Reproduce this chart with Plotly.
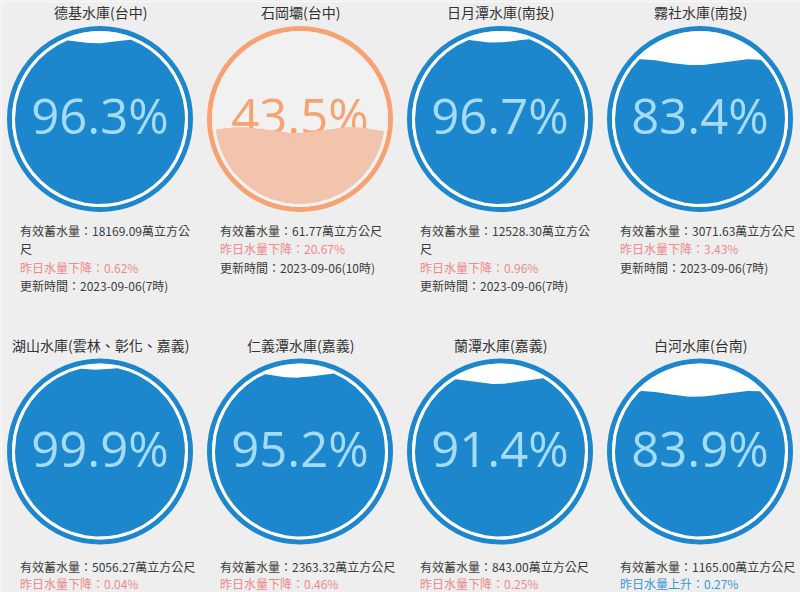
import numpy as np
import plotly.graph_objects as go

# ---------------- data ----------------
names = ["德基水庫(台中)", "石岡壩(台中)", "日月潭水庫(南投)", "霧社水庫(南投)",
         "湖山水庫(雲林、彰化、嘉義)", "仁義潭水庫(嘉義)", "蘭潭水庫(嘉義)", "白河水庫(台南)"]
percent = [96.3, 43.5, 96.7, 83.4, 99.9, 95.2, 91.4, 83.9]
storage = ["18169.09", "61.77", "12528.30", "3071.63", "5056.27", "2363.32", "843.00", "1165.00"]
daily_change = [-0.62, -20.67, -0.96, -3.43, -0.04, -0.46, -0.25, 0.27]
updated = ["2023-09-06(7時)", "2023-09-06(10時)", "2023-09-06(7時)", "2023-09-06(7時)",
           None, None, None, None]

# ---------------- styling / layout ----------------
W, H = 800, 592
BG = "#eeeeee"
COL_W = 200
ROW_CY = [119, 451.5]
ROW_TITLE_Y = [11.5, 345]
ROW_INFO_Y = [230, 566]
ROW_LINE_STEP = [18.5, 17.5]
R_OUT = 93.0
RING_W = 5.0
R_GAP = 88.0
R_IN = 85.0
WAVE_A = 3.0
WAVE_L = 110.0
TEXT_DY = 3.0

BLUE = dict(ring="#1d87cd", water="#1d87cd", text_in="#a4dcf7", text_out="#1d87cd", inside="#ffffff")
ORANGE = dict(ring="#f6a272", water="#f3c4ad", text_in="#f6a272", text_out="#f6a272", inside="#f1f1f1")

CJK = "Noto Sans CJK TC"
NUM_FONT = "Open Sans"

fig = go.Figure()
shapes = []
annotations = []

for i, name in enumerate(names):
    row, col = divmod(i, 4)
    cx = col * COL_W + COL_W / 2
    cy = ROW_CY[row]
    p = percent[i]
    st = BLUE if p >= 50 else ORANGE

    # outer ring
    rr = R_OUT - RING_W / 2
    shapes.append(dict(type="circle", xref="x", yref="y", layer="below",
                       x0=cx - rr, x1=cx + rr, y0=cy - rr, y1=cy + rr,
                       line=dict(color=st["ring"], width=RING_W), fillcolor="rgba(0,0,0,0)"))
    # interior
    shapes.append(dict(type="circle", xref="x", yref="y", layer="below",
                       x0=cx - R_GAP, x1=cx + R_GAP, y0=cy - R_GAP, y1=cy + R_GAP,
                       line=dict(width=0), fillcolor=st["inside"]))

    # water polygon from fill level
    level = cy + R_IN - 2 * R_IN * p / 100.0
    xs = np.linspace(cx - R_IN, cx + R_IN, 400)
    dx = xs - cx
    half = np.sqrt(np.clip(R_IN ** 2 - dx ** 2, 0, None))
    wave = level - WAVE_A * np.cos(2 * np.pi * (xs - (cx - R_IN + 25)) / WAVE_L)
    top = np.maximum(wave, cy - half)
    bot = cy + half
    ok = top <= bot
    xv = xs[ok]
    px = np.concatenate([xv, xv[::-1]])
    py = np.concatenate([top[ok], bot[ok][::-1]])

    water = go.Scatter(x=px, y=py, mode="lines", fill="toself", fillcolor=st["water"],
                       line=dict(width=0, color=st["water"]), hoverinfo="skip", showlegend=False)
    txt_color = st["text_in"] if p >= 50 else st["text_out"]
    label = go.Scatter(x=[cx], y=[cy + TEXT_DY], mode="text", text=[f"{p:.1f}%"],
                       textposition="middle center",
                       textfont=dict(family=NUM_FONT, size=49, color=txt_color),
                       hoverinfo="skip", showlegend=False)
    if p >= 50:
        fig.add_trace(water)
        fig.add_trace(label)
    else:
        fig.add_trace(label)
        fig.add_trace(water)

    # title
    annotations.append(dict(x=cx, y=ROW_TITLE_Y[row], xref="x", yref="y", text=name,
                            showarrow=False, xanchor="center", yanchor="middle",
                            font=dict(family=CJK, size=14, color="#333333")))

    # info lines
    lines = []
    s = storage[i]
    if len(s) >= 8:
        lines.append((f"有效蓄水量：{s}萬立方公", "#3c3c3c"))
        lines.append(("尺", "#3c3c3c"))
    else:
        lines.append((f"有效蓄水量：{s}萬立方公尺", "#3c3c3c"))
    ch = daily_change[i]
    if ch < 0:
        lines.append((f"昨日水量下降：{abs(ch):.2f}%", "#ef8a8a"))
    else:
        lines.append((f"昨日水量上升：{abs(ch):.2f}%", "#3a98d6"))
    if updated[i]:
        lines.append((f"更新時間：{updated[i]}", "#3c3c3c"))
    x_left = col * COL_W + 18
    for k, (t, c) in enumerate(lines):
        annotations.append(dict(x=x_left, y=ROW_INFO_Y[row] + k * ROW_LINE_STEP[row], xref="x", yref="y",
                                text=t, showarrow=False, xanchor="left", yanchor="middle",
                                font=dict(family=CJK, size=12, color=c)))

# faint frame lines
shapes.append(dict(type="line", xref="x", yref="y", layer="below", x0=0, x1=W, y0=1.5, y1=1.5,
                   line=dict(color="#f8f8f8", width=1.5)))
shapes.append(dict(type="line", xref="x", yref="y", layer="below", x0=1.5, x1=1.5, y0=0, y1=H,
                   line=dict(color="#f8f8f8", width=1.5)))

fig.update_layout(
    width=W, height=H, margin=dict(l=0, r=0, t=0, b=0),
    paper_bgcolor=BG, plot_bgcolor=BG,
    xaxis=dict(range=[0, W], visible=False, fixedrange=True),
    yaxis=dict(range=[H, 0], visible=False, fixedrange=True),
    shapes=shapes, annotations=annotations, showlegend=False,
)

fig.write_html("out.html")
